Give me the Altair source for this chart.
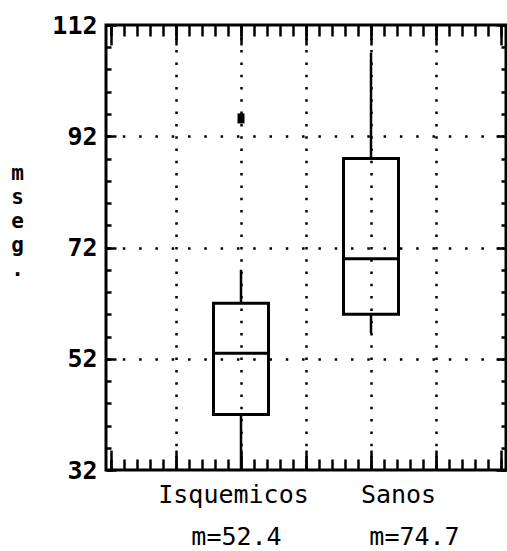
import altair as alt
import pandas as pd

# ---- data ----
categories = ["Isquemicos", "Sanos"]
positions = [2, 4]
lower_whisker = [32, 56.6]
q1 = [42.0, 60.0]
median = [53.0, 70.0]
q3 = [62.0, 88.0]
upper_whisker = [68.0, 107.0]
means = [52.4, 74.7]
outlier_pos = [2]
outlier_val = [95.2]

y_title = "mseg."

df = pd.DataFrame({
    "cat": categories, "pos": positions, "lo": lower_whisker, "q1": q1,
    "med": median, "q3": q3, "hi": upper_whisker,
})
df_out = pd.DataFrame({"pos": outlier_pos, "val": outlier_val})

# ---- layout/style constants ----
FONT = "DejaVu Sans Mono"
xdom = [0, 6]
ydom = [32, 112]
x_major = list(range(0, 7))
x_minor = [i / 5 for i in range(31)]
y_major = list(range(32, 113, 20))
y_minor = list(range(32, 113, 4))
cat_dx = [-8, 27]
mean_dx = [-5, 43]

def expr_map(labels):
    parts = [f"datum.value == {p} ? '{l}'" for p, l in zip(positions, labels)]
    return " : ".join(parts) + " : ''"

def offset_cond(dxs):
    return {"condition": {"test": f"datum.value == {positions[1]}", "value": dxs[1]}, "value": dxs[0]}

def ax(**kw):
    base = dict(domain=False, labels=False, ticks=False, grid=False,
                labelOverlap=False, labelFlush=False, title=None,
                tickColor="black", tickWidth=2.5, labelColor="black",
                labelFont=FONT)
    base.update(kw)
    return alt.Axis(**base)

xs = alt.Scale(domain=xdom, nice=False, zero=False)
ys = alt.Scale(domain=ydom, nice=False, zero=False)

grid_x = ax(orient="bottom", grid=True, values=[1, 2, 3, 4, 5], gridColor="black",
            gridWidth=2.5, gridDash=[2.5, 9.8], gridOpacity=1)
grid_y = ax(orient="left", grid=True, values=[52, 72, 92], gridColor="black",
            gridWidth=2.5, gridDash=[2.5, 13.8], gridOpacity=1,
            title=list(y_title), titleAngle=0, titleX=-89, titleY=154,
            titleAlign="center", titleBaseline="alphabetic", titleFont=FONT,
            titleFontSize=21, titleFontWeight="bold", titleLineHeight=24,
            titleColor="black")
bot_major = ax(orient="bottom", ticks=True, values=x_major, tickSize=20, offset=-20,
               labels=True, labelExpr=expr_map(categories), labelFontSize=25,
               labelPadding=12, labelAlign="center", labelBaseline="top",
               labelOffset=offset_cond(cat_dx))
bot_minor = ax(orient="bottom", ticks=True, values=x_minor, tickSize=11, offset=-11,
               labels=True, labelExpr=expr_map([f"m={m}" for m in means]),
               labelFontSize=25, labelPadding=54, labelAlign="center",
               labelBaseline="top", labelOffset=offset_cond(mean_dx))
top_major = ax(orient="top", ticks=True, values=x_major, tickSize=20, offset=-20)
top_minor = ax(orient="top", ticks=True, values=x_minor, tickSize=11, offset=-11)
left_major = ax(orient="left", ticks=True, values=y_major, tickSize=10, offset=-10,
                labels=True, labelFontSize=25, labelFontWeight="bold",
                labelPadding=9, labelBaseline="middle")
left_minor = ax(orient="left", ticks=True, values=y_minor, tickSize=5, offset=-5)
right_major = ax(orient="right", ticks=True, values=y_major, tickSize=10, offset=-10)
right_minor = ax(orient="right", ticks=True, values=y_minor, tickSize=5, offset=-5)

base = alt.Chart(df)

low_wh = base.mark_rule(color="black", strokeWidth=2.5).encode(
    x=alt.X("pos:Q", scale=xs, axis=grid_x),
    y=alt.Y("lo:Q", scale=ys, axis=grid_y),
    y2="q1:Q",
)
up_wh = base.mark_rule(color="black", strokeWidth=2.5).encode(
    x=alt.X("pos:Q", scale=xs, axis=bot_major),
    y=alt.Y("q3:Q", scale=ys, axis=left_major),
    y2="hi:Q",
)
box = base.mark_bar(orient="vertical", size=55, fill="transparent", stroke="black",
                    strokeWidth=3).encode(
    x=alt.X("pos:Q", scale=xs, axis=bot_minor),
    y=alt.Y("q1:Q", scale=ys, axis=left_minor),
    y2="q3:Q",
)
med = base.mark_tick(orient="horizontal", size=56, thickness=3, color="black", opacity=1).encode(
    x=alt.X("pos:Q", scale=xs, axis=top_major),
    y=alt.Y("med:Q", scale=ys, axis=right_major),
)
outl = alt.Chart(df_out).mark_point(shape="M-0.7,-1H0.7V1H-0.7Z", size=100, filled=True,
                                    color="black", opacity=1).encode(
    x=alt.X("pos:Q", scale=xs, axis=top_minor),
    y=alt.Y("val:Q", scale=ys, axis=right_minor),
)

chart = alt.layer(low_wh, up_wh, box, med, outl).resolve_axis(
    x="independent", y="independent"
).properties(
    width=400, height=445,
    padding={"left": 106, "top": 25, "right": 1, "bottom": 81},
    autosize="none",
    background="white",
).configure_view(stroke="black", strokeWidth=3)

chart.save("out.html", embed_options={"renderer": "svg", "actions": False})
